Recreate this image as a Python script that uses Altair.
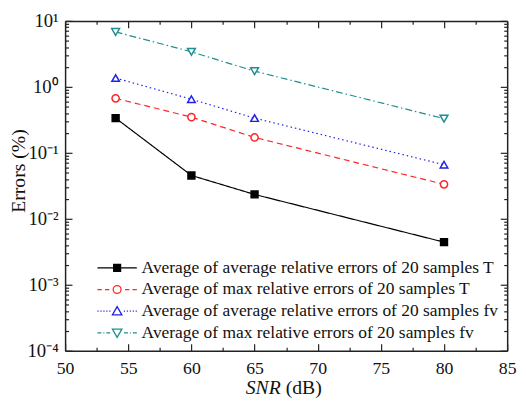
import json
import altair as alt
import pandas as pd

# ---- data ----
snr = [54, 60, 65, 80]
avg_avg_T = [0.336, 0.0454, 0.0234, 0.00443]
avg_max_T = [0.67, 0.348, 0.171, 0.0333]
avg_avg_fv = [1.36, 0.65, 0.336, 0.066]
avg_max_fv = [6.8, 3.4, 1.73, 0.33]

series_names = [
    "Average of average relative errors of 20 samples T",
    "Average of max relative errors of 20 samples T",
    "Average of average relative errors of 20 samples fv",
    "Average of max relative errors of 20 samples fv",
]
series_values = [avg_avg_T, avg_max_T, avg_avg_fv, avg_max_fv]

x_ticks = [50 + 2.5 * i for i in range(15)]
y_ticks = [m * 10.0 ** k for k in range(-4, 1) for m in range(1, 10)] + [10.0]
y_labels = ["10\u207b\u2074", "10\u207b\u00b3", "10\u207b\u00b2", "10\u207b\u00b9", "10\u2070", "10\u00b9"]

# ---- styles ----
colors = ["#000000", "#ff2626", "#2020e8", "#1f8f8f"]
fills = ["#000000", "#ffffff", "#ffffff", "#ffffff"]
shapes = ["square", "circle", "triangle-up", "triangle-down"]
sizes = [49, 64, 75, 75]
dashes = [[1, 0], [6, 4], [1.5, 3], [7, 3, 1.5, 3]]
# legend glyphs: line segment + marker (unit = 4 px at symbolSize 64)
legend_paths = [
    "M-5,0H5M-0.875,-0.875H0.875V0.875H-0.875Z",
    "M-5,0H-3.9M-3.1,0H-2M2,0H3.1M3.9,0H5M1,0A1,1,0,1,1,-1,0A1,1,0,1,1,1,0Z",
    "M-5,0H-4.7M-4.25,0H-3.95M-3.5,0H-3.2M-2.75,0H-2.45M-2,0H-1.7"
    "M1.7,0H2M2.45,0H2.75M3.2,0H3.5M3.95,0H4.25M4.7,0H5M0,-1.15L1.2,0.95H-1.2Z",
    "M-5,0H-4M-3.5,0H-3.25M-2.75,0H-1.75M1.75,0H2.75M3.25,0H3.5M4,0H5M0,1.15L1.2,-0.95H-1.2Z",
]

rows = []
for name, vals in zip(series_names, series_values):
    for s, v in zip(snr, vals):
        rows.append({"snr": s, "err": v, "series": name})
df = pd.DataFrame(rows)

FONT = "Liberation Serif"

x_scale = alt.Scale(domain=[50, 85], nice=False, zero=False)
y_scale = alt.Scale(type="log", domain=[1e-4, 10], nice=False)

def stroke_scale():
    return alt.Scale(domain=series_names, range=colors)

def fill_scale():
    return alt.Scale(domain=series_names, range=fills)

is_pow = "abs(log(datum.value)/LN10 - round(log(datum.value)/LN10)) < 0.001"
x_minor = "abs(datum.value % 5) > 0.001"

def x_axis(orient, labels):
    kw = dict(
        orient=orient, values=x_ticks, grid=False, domainColor="#222222", domainWidth=1.5,
        tickColor="#222222", tickWidth=1.2,
        tickSize={"condition": {"test": x_minor, "value": -3.5}, "value": -7},
        labels=labels, title=None,
    )
    if labels:
        kw.update(labelExpr=f"({x_minor}) ? '' : format(datum.value, 'd')",
                  labelFont=FONT, labelFontSize=18, labelColor="#111111", labelPadding=16,
                  labelFlush=False, labelOverlap=False)
    return alt.Axis(**kw)

def y_axis(orient, labels):
    kw = dict(
        orient=orient, values=y_ticks, grid=False, domainColor="#222222", domainWidth=1.5,
        tickColor="#222222", tickWidth=1.2,
        tickSize={"condition": {"test": f"!({is_pow})", "value": -3.5}, "value": -7},
        labels=labels, title=None,
    )
    if labels:
        kw.update(
            labelExpr=f"({is_pow}) ? {json.dumps(y_labels)}[round(log(datum.value)/LN10)+4] : ''",
            labelFont=FONT, labelFontSize=19, labelColor="#111111", labelPadding=14,
            labelFlush=False, labelOverlap=False,
            title="Errors (%)", titleFont=FONT, titleFontSize=20, titleFontWeight="normal",
            titleColor="#111111", titleX=-47, titleY=152, titleAlign="center",
            titleBaseline="middle", titleAngle=270,
        )
    return alt.Axis(**kw)

legend = alt.Legend(
    title=None, orient="none", legendX=44, legendY=242,
    symbolSize=64, symbolStrokeWidth=1.3, labelFont=FONT, labelFontSize=17.7,
    labelColor="#111111", labelOffset=16, rowPadding=3, labelLimit=0, symbolOpacity=1,
)

lines = alt.Chart(df).mark_line(strokeWidth=1.2).encode(
    x=alt.X("snr:Q", scale=x_scale, axis=x_axis("bottom", True)),
    y=alt.Y("err:Q", scale=y_scale, axis=y_axis("left", True)),
    stroke=alt.Stroke("series:N", scale=stroke_scale(), legend=None),
    strokeDash=alt.StrokeDash("series:N", scale=alt.Scale(domain=series_names, range=dashes), legend=None),
    detail="series:N",
)

points = alt.Chart(df).mark_point(filled=True, strokeWidth=1.5, opacity=1).encode(
    x=alt.X("snr:Q", scale=x_scale, axis=x_axis("top", False)),
    y=alt.Y("err:Q", scale=y_scale, axis=y_axis("right", False)),
    stroke=alt.Stroke("series:N", scale=stroke_scale(), legend=None),
    fill=alt.Fill("series:N", scale=fill_scale(), legend=None),
    shape=alt.Shape("series:N", scale=alt.Scale(domain=series_names, range=shapes), legend=None),
    size=alt.Size("series:N", scale=alt.Scale(domain=series_names, range=sizes), legend=None),
)

# legend-only layer (no rows survive the filter); its scales give line+marker glyphs
legend_layer = alt.Chart(alt.Data(values=[{"series": n} for n in series_names])).transform_filter(
    "false"
).mark_point(filled=True, strokeWidth=1.3, opacity=1, size=64).encode(
    stroke=alt.Stroke("series:N", scale=stroke_scale(), legend=legend),
    fill=alt.Fill("series:N", scale=fill_scale(), legend=legend),
    shape=alt.Shape("series:N", scale=alt.Scale(domain=series_names, range=legend_paths), legend=legend),
)

title_a = alt.Chart(pd.DataFrame({"t": ["SNR"]})).mark_text(
    font=FONT, fontSize=20, fontStyle="italic", align="right", baseline="alphabetic", color="#111111"
).encode(text="t:N", x=alt.value(219), y=alt.value(379))
title_b = alt.Chart(pd.DataFrame({"t": ["(dB)"]})).mark_text(
    font=FONT, fontSize=20, align="left", baseline="alphabetic", color="#111111"
).encode(text="t:N", x=alt.value(224), y=alt.value(379))

chart = alt.layer(lines, points, legend_layer, title_a, title_b).resolve_axis(
    x="independent", y="independent"
).resolve_scale(shape="independent", stroke="independent", fill="independent").properties(
    width=449, height=335, autosize="none",
    padding={"left": 58, "top": 10, "right": 11, "bottom": 50},
    background="white",
).configure_view(stroke=None)

chart.save("out.html", embed_options={"renderer": "svg", "actions": False})
